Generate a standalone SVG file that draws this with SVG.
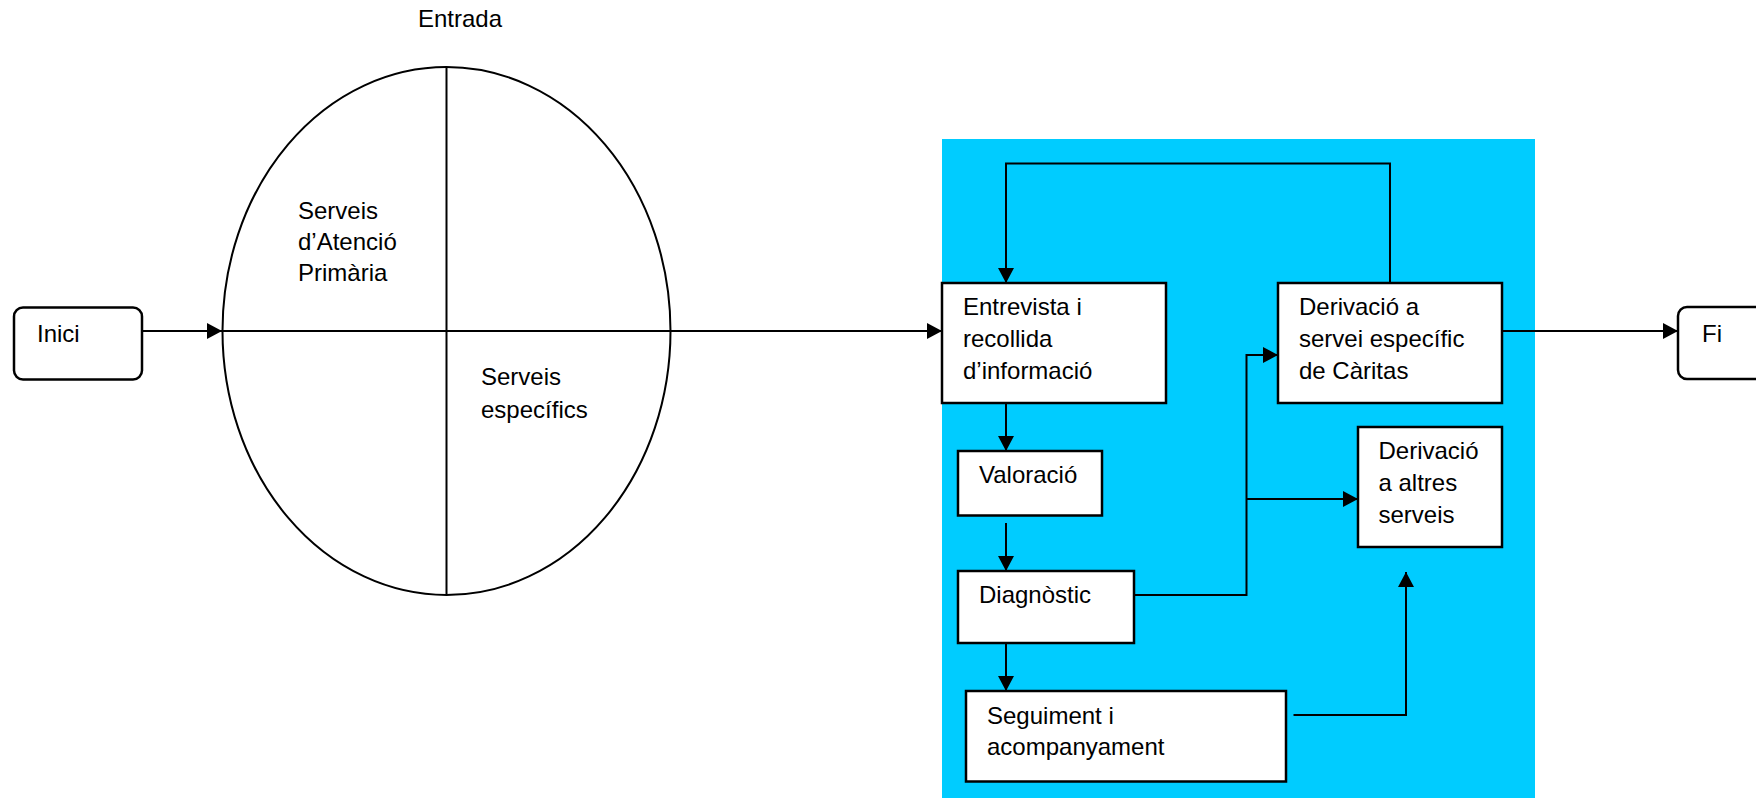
<svg xmlns="http://www.w3.org/2000/svg" width="1756" height="798" viewBox="0 0 1756 798">
<defs>
<style>
text{font-family:"Liberation Sans",Arial,sans-serif;font-size:24px;fill:#000}
.box{fill:#fff;stroke:#000;stroke-width:2.5}
.ln{fill:none;stroke:#000;stroke-width:2}
</style>
<marker id="ah" markerWidth="15" markerHeight="16" refX="15" refY="8" orient="auto" markerUnits="userSpaceOnUse">
<path d="M0,0 L15,8 L0,16 Z" fill="#000"/>
</marker>
</defs>
<rect width="1756" height="798" fill="#fff"/>
<rect id="panel" x="942" y="139" width="593" height="659" fill="#00ccff"/>
<g id="entrada">
<text x="418" y="27">Entrada</text>
</g>
<g id="cercle">
<ellipse cx="446.5" cy="331" rx="224" ry="264" fill="none" stroke="#000" stroke-width="2"/>
<line x1="446.5" y1="67" x2="446.5" y2="595" stroke="#000" stroke-width="2"/>
<text x="298" y="219">Serveis</text>
<text x="298" y="250">d’Atenció</text>
<text x="298" y="281">Primària</text>
<text x="481" y="385">Serveis</text>
<text x="481" y="418">específics</text>
</g>
<g id="inici">
<rect class="box" x="14" y="307.5" width="128" height="72" rx="9"/>
<text x="37" y="342">Inici</text>
</g>
<g id="fi">
<rect class="box" x="1678" y="307" width="100" height="72" rx="9"/>
<text x="1702" y="342">Fi</text>
</g>
<g id="entrevista">
<rect class="box" x="942" y="283" width="224" height="120"/>
<text x="963" y="315">Entrevista i</text>
<text x="963" y="347">recollida</text>
<text x="963" y="379">d’informació</text>
</g>
<g id="derivacio-caritas">
<rect class="box" x="1278" y="283" width="224" height="120"/>
<text x="1299" y="315">Derivació a</text>
<text x="1299" y="347">servei específic</text>
<text x="1299" y="379">de Càritas</text>
</g>
<g id="derivacio-altres">
<rect class="box" x="1358" y="427" width="144" height="120"/>
<text x="1378.5" y="459">Derivació</text>
<text x="1378.5" y="491">a altres</text>
<text x="1378.5" y="523">serveis</text>
</g>
<g id="valoracio">
<rect class="box" x="958" y="451" width="144" height="64.5"/>
<text x="979" y="483">Valoració</text>
</g>
<g id="diagnostic">
<rect class="box" x="958" y="571" width="176" height="72"/>
<text x="979" y="603">Diagnòstic</text>
</g>
<g id="seguiment">
<rect class="box" x="966" y="691" width="320" height="90.5"/>
<text x="987" y="724">Seguiment i</text>
<text x="987" y="755">acompanyament</text>
</g>
<g id="connectors">
<line class="ln" x1="142" y1="331" x2="222" y2="331" marker-end="url(#ah)"/>
<line class="ln" x1="222" y1="331" x2="942" y2="331" marker-end="url(#ah)"/>
<polyline class="ln" points="1390,283 1390,163.5 1006,163.5 1006,283" marker-end="url(#ah)"/>
<line class="ln" x1="1006" y1="403" x2="1006" y2="451" marker-end="url(#ah)"/>
<line class="ln" x1="1006" y1="523" x2="1006" y2="571" marker-end="url(#ah)"/>
<line class="ln" x1="1006" y1="643" x2="1006" y2="691" marker-end="url(#ah)"/>
<polyline class="ln" points="1134,595 1246.5,595 1246.5,355 1278,355" marker-end="url(#ah)"/>
<line class="ln" x1="1246.5" y1="499" x2="1358" y2="499" marker-end="url(#ah)"/>
<polyline class="ln" points="1293.5,715 1406,715 1406,572" marker-end="url(#ah)"/>
<line class="ln" x1="1502" y1="331" x2="1678" y2="331" marker-end="url(#ah)"/>
</g>
</svg>
